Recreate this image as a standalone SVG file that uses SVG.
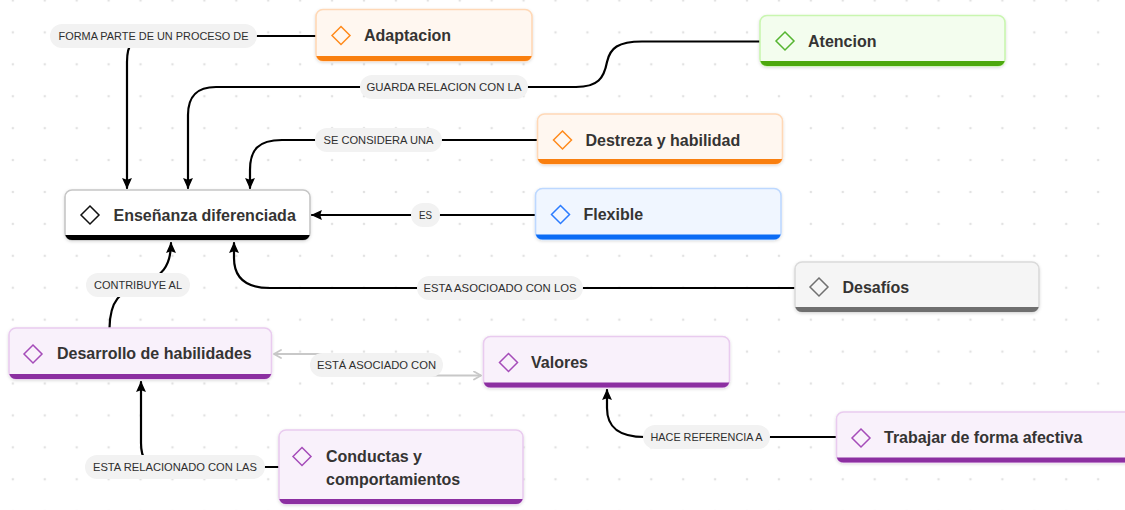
<svg xmlns="http://www.w3.org/2000/svg" width="1125" height="510" viewBox="0 0 1125 510">
<defs>
<pattern id="dots" patternUnits="userSpaceOnUse" x="-3.1" y="-15.5" width="31.92" height="31.92">
<circle cx="15.96" cy="15.96" r="1.3" fill="#e2e2e2"/>
</pattern>
<filter id="sh" x="-10%" y="-20%" width="120%" height="150%">
<feDropShadow dx="0" dy="1" stdDeviation="1.5" flood-color="#000" flood-opacity="0.14"/>
</filter>
<marker id="ah" viewBox="0 0 10 10" refX="9" refY="5" markerWidth="11" markerHeight="11" markerUnits="userSpaceOnUse" orient="auto-start-reverse">
<path d="M0,0.5 L10,5 L0,9.5 L1.5,5 Z" fill="#000"/>
</marker>
<marker id="ag" viewBox="0 0 10 10" refX="9" refY="5" markerWidth="10" markerHeight="10" markerUnits="userSpaceOnUse" orient="auto-start-reverse">
<path d="M2,1 L9,5 L2,9" fill="none" stroke="#c8c8c8" stroke-width="1.8" stroke-linecap="round" stroke-linejoin="round"/>
</marker>
<style>
.box{stroke-width:1.6;filter:url(#sh)}
.dia{fill:none;stroke-width:1.5}
.nt{font-family:"Liberation Sans",Arial,sans-serif;font-weight:bold;font-size:16px;fill:#353433}
.pill{fill:#f2f2f2}
.lt{font-family:"Liberation Sans",Arial,sans-serif;font-size:11.5px;fill:#2f2f2f;text-anchor:middle}
.c{fill:none;stroke:#000;stroke-width:2.2;stroke-linecap:round}
.cg{fill:none;stroke:#c8c8c8;stroke-width:1.8}
.orange .box{fill:#fff7f0;stroke:#ffd8b6}
.orange .bar{fill:#f97f0f}
.orange .dia{stroke:#ff8a1c}
.green .box{fill:#f3fdee;stroke:#c9f6b0}
.green .bar{fill:#4da80e}
.green .dia{stroke:#55b531}
.blue .box{fill:#f0f6ff;stroke:#bdd8ff}
.blue .bar{fill:#0b6cf5}
.blue .dia{stroke:#2b7cff}
.gray .box{fill:#f5f5f5;stroke:#dadada}
.gray .bar{fill:#6f6f6f}
.gray .dia{stroke:#707070}
.purple .box{fill:#f9f1fb;stroke:#e9cbef}
.purple .bar{fill:#8c2fa1}
.purple .dia{stroke:#a54cb9}
.black .box{fill:#ffffff;stroke:#c6c6c6}
.black .bar{fill:#000}
.black .dia{stroke:#111}
</style>
</defs>
<rect width="1125" height="510" fill="#ffffff"/>
<rect width="1125" height="510" fill="url(#dots)"/>

<g id="connectors">
<path class="c" d="M316 36 H150 C133 36 127 44 127 62 V188" marker-end="url(#ah)"/>
<path class="c" d="M760 41.5 H642 C618 41.5 610 48 607 62 C604 78 598 87 576 87 H216 C196 87 188 97 188 115 V188" marker-end="url(#ah)"/>
<path class="c" d="M537 140 H282 C258 140 250 150 250 170 V188" marker-end="url(#ah)"/>
<path class="c" d="M535 215 H312" marker-end="url(#ah)"/>
<path class="c" d="M795 288 H270 C245 288 234 277 234 258 V243" marker-end="url(#ah)"/>
<path class="c" d="M109.5 328 C110 300 120 292 140 285 C162 277 171 266 171 243" marker-end="url(#ah)"/>
<path class="cg" d="M274 354 H350 C370 354 370 375.5 390 375.5 H481" marker-start="url(#ag)" marker-end="url(#ag)"/>
<path class="c" d="M836 437 H645 C618 437 607 427 607 408 V390" marker-end="url(#ah)"/>
<path class="c" d="M279 467 H160 C146 467 141 458 141 443 V382" marker-end="url(#ah)"/>

<g id="labels">
<rect class="pill" x="50" y="24" width="207" height="24" rx="12"/>
<text class="lt" x="153.5" y="40" textLength="190" lengthAdjust="spacingAndGlyphs">FORMA PARTE DE UN PROCESO DE</text>
<rect class="pill" x="360" y="75" width="168" height="24" rx="12"/>
<text class="lt" x="444" y="91" textLength="155" lengthAdjust="spacingAndGlyphs">GUARDA RELACION CON LA</text>
<rect class="pill" x="315" y="128" width="127" height="24" rx="12"/>
<text class="lt" x="378.5" y="144" textLength="110" lengthAdjust="spacingAndGlyphs">SE CONSIDERA UNA</text>
<rect class="pill" x="411" y="203" width="29" height="24" rx="12"/>
<text class="lt" x="425.5" y="219" textLength="13" lengthAdjust="spacingAndGlyphs">ES</text>
<rect class="pill" x="417" y="276" width="166" height="24" rx="12"/>
<text class="lt" x="500" y="292" textLength="153" lengthAdjust="spacingAndGlyphs">ESTA ASOCIOADO CON LOS</text>
<rect class="pill" x="86" y="273" width="104" height="24" rx="12"/>
<text class="lt" x="138" y="289" textLength="88" lengthAdjust="spacingAndGlyphs">CONTRIBUYE AL</text>
<rect class="pill" x="310" y="353" width="133" height="24" rx="12"/>
<text class="lt" x="376.5" y="369" textLength="119" lengthAdjust="spacingAndGlyphs">ESTÁ ASOCIADO CON</text>
<rect class="pill" x="643" y="425" width="127" height="24" rx="12"/>
<text class="lt" x="706.5" y="441" textLength="112" lengthAdjust="spacingAndGlyphs">HACE REFERENCIA A</text>
<rect class="pill" x="85" y="455" width="180" height="24" rx="12"/>
<text class="lt" x="175" y="471" textLength="164" lengthAdjust="spacingAndGlyphs">ESTA RELACIONADO CON LAS</text>
</g>
</g>

<g id="n-adaptacion" class="orange">
<rect class="box" x="316" y="9.5" width="216" height="51.5" rx="7"/>
<path class="bar" d="M316.3 56 H531.7 A7 7 0 0 1 525 61 H323 A7 7 0 0 1 316.3 56 Z"/>
<path class="dia" d="M341 26.5 L350 35.5 L341 44.5 L332 35.5 Z"/>
<text class="nt" x="364" y="41">Adaptacion</text>
</g>

<g id="n-atencion" class="green">
<rect class="box" x="760" y="15.5" width="245" height="50.5" rx="7"/>
<path class="bar" d="M760.3 61 H1004.7 A7 7 0 0 1 998 66 H767 A7 7 0 0 1 760.3 61 Z"/>
<path class="dia" d="M785 32 L794 41 L785 50 L776 41 Z"/>
<text class="nt" x="808" y="46.5">Atencion</text>
</g>

<g id="n-destreza" class="orange">
<rect class="box" x="537.5" y="114" width="245" height="50" rx="7"/>
<path class="bar" d="M537.8 159 H782.2 A7 7 0 0 1 775.5 164 H544.5 A7 7 0 0 1 537.8 159 Z"/>
<path class="dia" d="M562.5 131 L571.5 140 L562.5 149 L553.5 140 Z"/>
<text class="nt" x="585.5" y="145.5">Destreza y habilidad</text>
</g>

<g id="n-flexible" class="blue">
<rect class="box" x="535.5" y="188.5" width="245.5" height="51" rx="7"/>
<path class="bar" d="M535.8 234.5 H780.7 A7 7 0 0 1 774 239.5 H542.5 A7 7 0 0 1 535.8 234.5 Z"/>
<path class="dia" d="M560.5 205.5 L569.5 214.5 L560.5 223.5 L551.5 214.5 Z"/>
<text class="nt" x="583.5" y="220">Flexible</text>
</g>

<g id="n-ensenanza" class="black">
<rect class="box" x="65" y="190" width="245" height="50" rx="7"/>
<path class="bar" d="M65.3 235 H309.7 A7 7 0 0 1 303 240 H72 A7 7 0 0 1 65.3 235 Z"/>
<path class="dia" d="M90 206 L99 215 L90 224 L81 215 Z"/>
<text class="nt" x="113.5" y="220.5">Enseñanza diferenciada</text>
</g>

<g id="n-desafios" class="gray">
<rect class="box" x="795" y="262" width="244" height="50" rx="7"/>
<path class="bar" d="M795.3 307 H1038.7 A7 7 0 0 1 1032 312 H802 A7 7 0 0 1 795.3 307 Z"/>
<path class="dia" d="M819 278 L828 287 L819 296 L810 287 Z"/>
<text class="nt" x="842.5" y="292.5">Desafíos</text>
</g>

<g id="n-desarrollo" class="purple">
<rect class="box" x="9" y="328" width="262.5" height="51" rx="7"/>
<path class="bar" d="M9.3 374 H271.2 A7 7 0 0 1 264.5 379 H16 A7 7 0 0 1 9.3 374 Z"/>
<path class="dia" d="M33 345 L42 354 L33 363 L24 354 Z"/>
<text class="nt" x="57" y="359">Desarrollo de habilidades</text>
</g>

<g id="n-valores" class="purple">
<rect class="box" x="483.5" y="336.5" width="246" height="51" rx="7"/>
<path class="bar" d="M483.8 382.5 H729.2 A7 7 0 0 1 722.5 387.5 H490.5 A7 7 0 0 1 483.8 382.5 Z"/>
<path class="dia" d="M508.5 353.5 L517.5 362.5 L508.5 371.5 L499.5 362.5 Z"/>
<text class="nt" x="531" y="368">Valores</text>
</g>

<g id="n-conductas" class="purple">
<rect class="box" x="279" y="430" width="244" height="74" rx="7"/>
<path class="bar" d="M279.3 499 H522.7 A7 7 0 0 1 516 504 H286 A7 7 0 0 1 279.3 499 Z"/>
<path class="dia" d="M302 447.5 L311 456.5 L302 465.5 L293 456.5 Z"/>
<text class="nt" x="326" y="462">Conductas y</text>
<text class="nt" x="326" y="485">comportamientos</text>
</g>

<g id="n-trabajar" class="purple">
<rect class="box" x="836.5" y="412" width="300" height="50.5" rx="7"/>
<path class="bar" d="M836.8 457.5 H1136.2 A7 7 0 0 1 1129.5 462.5 H843.5 A7 7 0 0 1 836.8 457.5 Z"/>
<path class="dia" d="M861 429 L870 438 L861 447 L852 438 Z"/>
<text class="nt" x="884" y="443">Trabajar de forma afectiva</text>
</g>
</svg>
